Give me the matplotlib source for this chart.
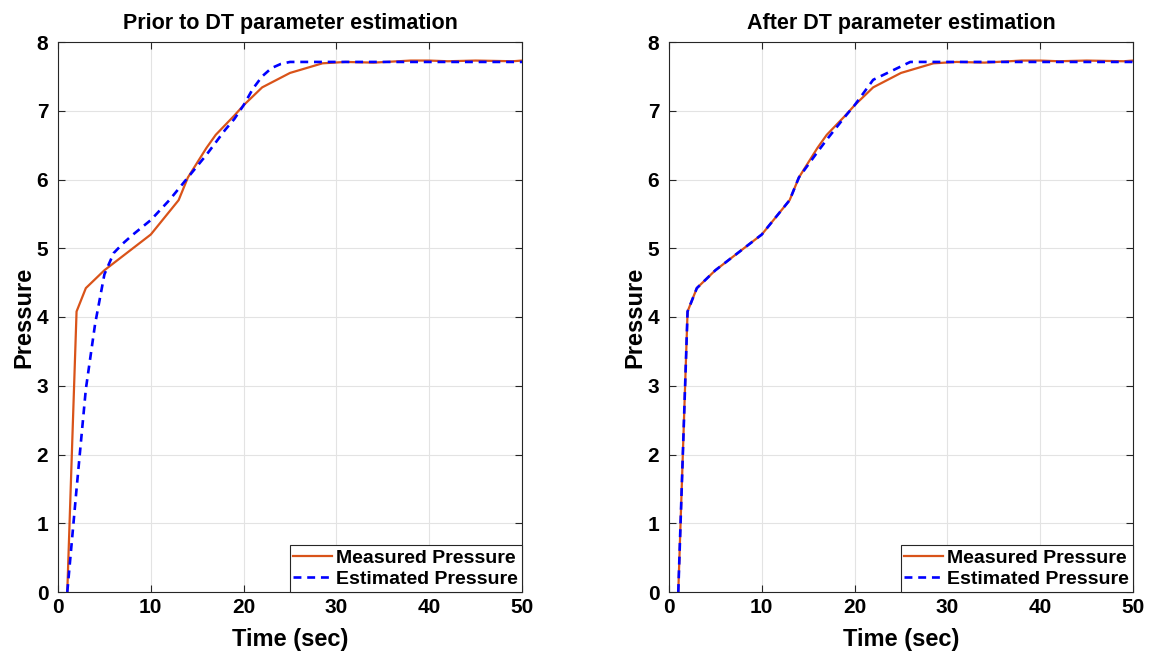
import matplotlib
matplotlib.use('Agg')
import matplotlib.pyplot as plt

plt.rcParams['font.family'] = ['Liberation Sans', 'DejaVu Sans']
plt.rcParams['font.weight'] = 'bold'

# measured pressure (same in both panels)
t_meas = [1, 2, 3, 5, 10, 13, 14, 16, 17, 19, 20, 22, 25, 27, 28.5, 31, 34, 38, 40, 42, 45, 49, 50]
p_meas = [0, 4.08, 4.42, 4.68, 5.20, 5.70, 6.03, 6.46, 6.65, 6.93, 7.08, 7.34, 7.55, 7.63, 7.69,
          7.71, 7.70, 7.73, 7.73, 7.72, 7.73, 7.72, 7.73]

# estimated pressure before DT parameter estimation
t_est_before = [1, 2, 3, 4, 5, 6, 7, 8, 10, 12, 14, 16, 18, 19, 20, 21, 22, 23, 24, 25, 50]
p_est_before = [0, 1.5, 2.95, 3.9, 4.62, 4.93, 5.07, 5.19, 5.41, 5.70, 6.03, 6.36, 6.72, 6.88,
                7.08, 7.32, 7.50, 7.62, 7.68, 7.71, 7.71]

# estimated pressure after DT parameter estimation
t_est_after = [1, 2, 3, 5, 10, 13, 14, 16, 17, 19, 20, 22, 26, 50]
p_est_after = [0, 4.08, 4.42, 4.68, 5.20, 5.70, 6.03, 6.40, 6.58, 6.92, 7.08, 7.45, 7.71, 7.71]

titles = ['Prior to DT parameter estimation', 'After DT parameter estimation']
estimates = [(t_est_before, p_est_before), (t_est_after, p_est_after)]

fig = plt.figure(figsize=(11.6, 6.54), dpi=100)
lefts = [58 / 1160, 669 / 1160]

for left, title, (t_est, p_est) in zip(lefts, titles, estimates):
    ax = fig.add_axes([left, 62 / 654, 464 / 1160, 550 / 654])
    ax.plot(t_meas, p_meas, color='#D95319', lw=1.6, label='Measured Pressure')
    ax.plot(t_est, p_est, color='#0000FF', lw=1.9, ls=(0, (3, 2.2)), label='Estimated Pressure')

    ax.set_xlim(0, 50)
    ax.set_ylim(0, 8)
    ax.set_xticks(range(0, 51, 10))
    ax.set_yticks(range(0, 9))
    ax.grid(True, color='#e3e3e3', lw=0.8)
    ax.set_axisbelow(True)
    for s in ax.spines.values():
        s.set_color('#262626')
        s.set_linewidth(0.8)
    ax.tick_params(direction='in', top=True, right=True, length=5, width=0.8,
                   color='#262626', labelsize=15)
    ax.tick_params(axis='x', pad=4)
    ax.tick_params(axis='y', pad=7)
    for lab in ax.get_xticklabels() + ax.get_yticklabels():
        lab.set_fontweight('bold')

    ax.set_title(title, fontsize=15.5, fontweight='bold', pad=9)
    ax.set_xlabel('Time (sec)', fontsize=17, fontweight='bold', labelpad=8)
    ax.set_ylabel('Pressure', fontsize=17, fontweight='bold', labelpad=1)

    leg = ax.legend(loc='lower right', borderaxespad=0, fancybox=False, framealpha=1,
                    edgecolor='#262626', prop={'size': 14, 'weight': 'bold'},
                    handlelength=2.0, handletextpad=0.2, labelspacing=0.2, borderpad=0.2)
    leg.get_frame().set_linewidth(0.8)

fig.savefig('out.png', dpi=100)
